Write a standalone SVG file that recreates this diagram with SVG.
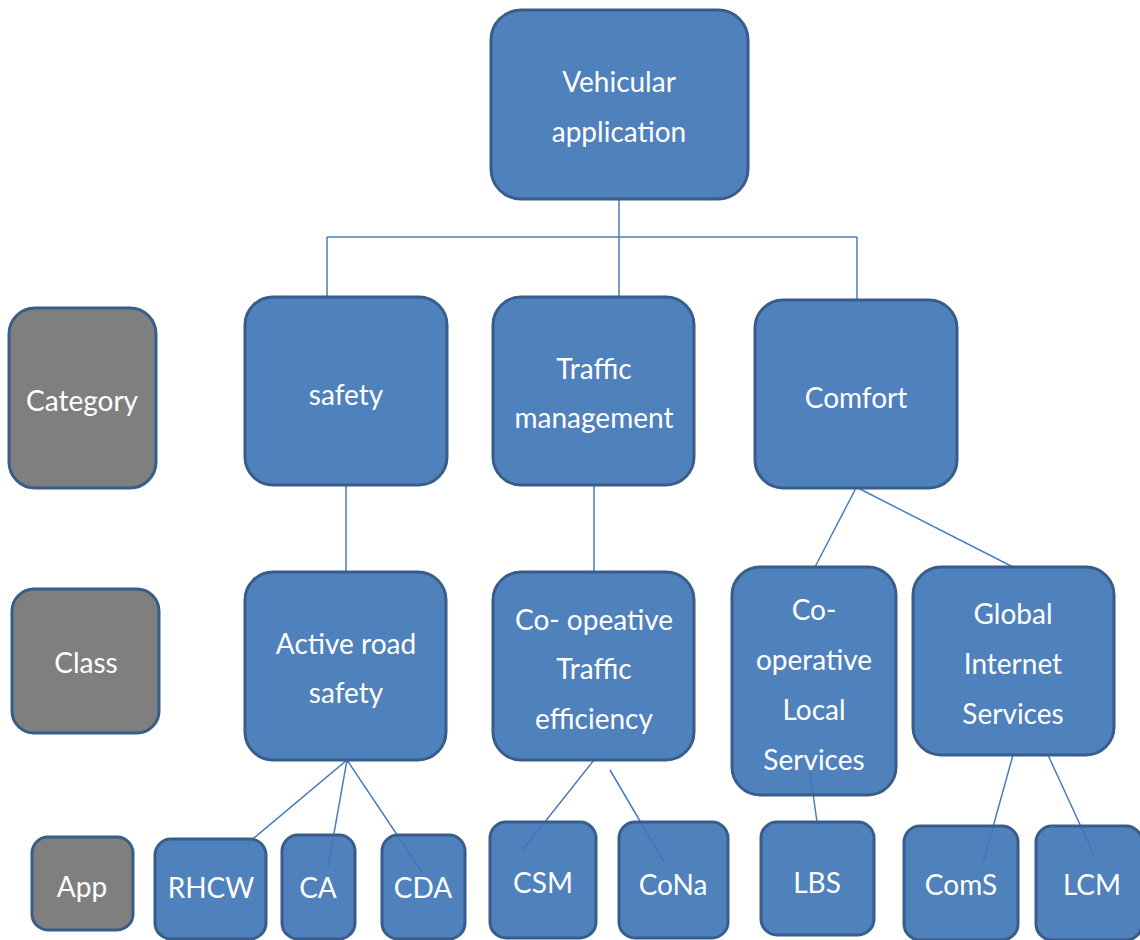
<svg xmlns="http://www.w3.org/2000/svg" width="1140" height="940" viewBox="0 0 1140 940">
<style>
.n{fill:#4076b7;fill-opacity:0.92;stroke:#385d8a;stroke-width:3}
.g{fill:#7f7f7f;stroke:#385d8a;stroke-width:3}
.t{fill:#fff;font-family:Lato,"Open Sans",sans-serif;font-size:28px;text-anchor:middle}
.c{stroke:#4a7ebb;stroke-width:1.5;fill:none}
</style>
<rect width="1140" height="940" fill="#fff"/>
<g id="connectors">
<path class="c" d="M619 199V298M327 237H857M327 237V298M857 237V300"/>
<path class="c" d="M346 485V573M594 485V572"/>
<path class="c" d="M856 488L815 567M858 488L1013 567"/>
<path class="c" d="M347 760L248 843M347 760L328 867M347 760L422 872"/>
<path class="c" d="M594 760L521 852M610 770L664 862"/>
<path class="c" d="M810 772L817 822"/>
<path class="c" d="M1013 755L983 863M1048 755L1094 855"/>
</g>
<g id="root"><rect class="n" x="491" y="10" width="257" height="189" rx="30"/><text class="t" x="619" y="92">Vehicular</text><text class="t" x="619" y="142">application</text></g>
<g id="category"><rect class="g" x="9" y="308" width="147" height="180" rx="26"/><text class="t" x="82" y="411">Category</text></g>
<g id="safety"><rect class="n" x="245" y="297" width="202" height="188" rx="28"/><text class="t" x="346" y="405">safety</text></g>
<g id="traffic"><rect class="n" x="493" y="297" width="201" height="188" rx="28"/><text class="t" x="594" y="379">Traffic</text><text class="t" x="594" y="428">management</text></g>
<g id="comfort"><rect class="n" x="755" y="300" width="202" height="188" rx="28"/><text class="t" x="856" y="408">Comfort</text></g>
<g id="class"><rect class="g" x="12" y="589" width="147" height="144" rx="22"/><text class="t" x="86" y="673">Class</text></g>
<g id="active"><rect class="n" x="245" y="572" width="201" height="188" rx="28"/><text class="t" x="346" y="654">Active road</text><text class="t" x="346" y="703">safety</text></g>
<g id="coeff"><rect class="n" x="493" y="572" width="201" height="188" rx="28"/><text class="t" x="594" y="630">Co- opeative</text><text class="t" x="594" y="679">Traffic</text><text class="t" x="594" y="729">efficiency</text></g>
<g id="colocal"><rect class="n" x="732" y="567" width="164" height="228" rx="28"/><text class="t" x="814" y="620">Co-</text><text class="t" x="814" y="670">operative</text><text class="t" x="814" y="720">Local</text><text class="t" x="814" y="770">Services</text></g>
<g id="global"><rect class="n" x="913" y="567" width="201" height="188" rx="28"/><text class="t" x="1013" y="624">Global</text><text class="t" x="1013" y="674">Internet</text><text class="t" x="1013" y="724">Services</text></g>
<g id="app"><rect class="g" x="32" y="837" width="101" height="93" rx="16"/><text class="t" x="82" y="897">App</text></g>
<g id="rhcw"><rect class="n" x="155" y="839" width="111" height="100" rx="16"/><text class="t" x="211" y="898">RHCW</text></g>
<g id="ca"><rect class="n" x="282" y="835" width="73" height="104" rx="16"/><text class="t" x="318" y="898">CA</text></g>
<g id="cda"><rect class="n" x="382" y="835" width="83" height="104" rx="16"/><text class="t" x="423" y="898">CDA</text></g>
<g id="csm"><rect class="n" x="490" y="822" width="106" height="116" rx="16"/><text class="t" x="543" y="893">CSM</text></g>
<g id="cona"><rect class="n" x="619" y="822" width="109" height="116" rx="16"/><text class="t" x="673" y="895">CoNa</text></g>
<g id="lbs"><rect class="n" x="761" y="822" width="113" height="113" rx="16"/><text class="t" x="817" y="893">LBS</text></g>
<g id="coms"><rect class="n" x="904" y="826" width="114" height="114" rx="16"/><text class="t" x="961" y="895">ComS</text></g>
<g id="lcm"><rect class="n" x="1036" y="826" width="106" height="114" rx="16"/><text class="t" x="1092" y="895">LCM</text></g>
</svg>
